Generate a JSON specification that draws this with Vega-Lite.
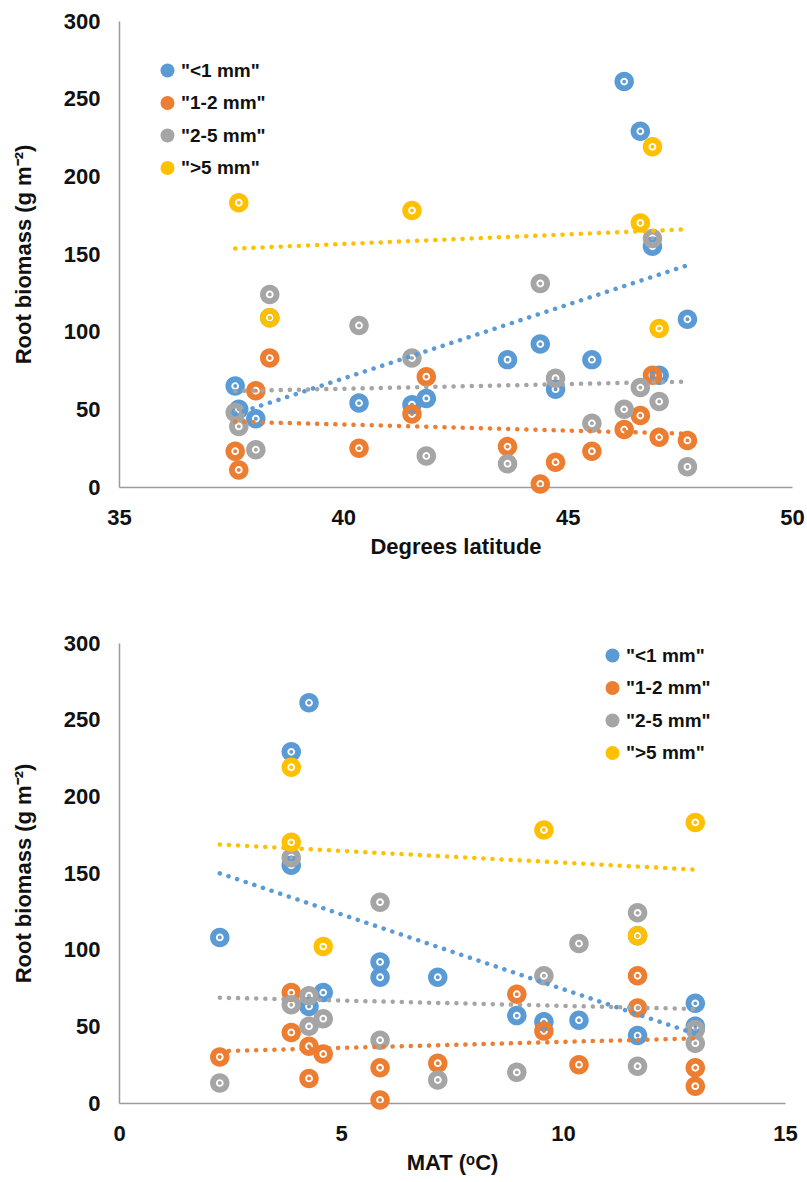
{
  "$schema": "https://vega.github.io/schema/vega-lite/v6.json",
  "background": "white",
  "padding": {"left": 12, "top": 10, "right": 5, "bottom": 5},
  "spacing": 75,
  "config": {
    "view": {"stroke": null},
    "font": "Liberation Sans",
    "axis": {
      "grid": false,
      "ticks": false,
      "labelFlush": false,
      "domainColor": "#9a9a9a",
      "domainWidth": 1.5,
      "labelFont": "Liberation Sans",
      "labelFontWeight": "bold",
      "labelFontSize": 22,
      "labelColor": "#111",
      "titleFont": "Liberation Sans",
      "titleFontWeight": "bold",
      "titleFontSize": 22,
      "titleColor": "#111"
    },
    "axisX": {"labelPadding": 20, "titlePadding": 8},
    "axisY": {"labelPadding": 19, "titlePadding": 28},
    "legend": {
      "orient": "none",
      "title": null,
      "padding": 0,
      "symbolType": "circle",
      "symbolSize": 196,
      "symbolStrokeWidth": 0,
      "symbolOpacity": 1,
      "labelFont": "Liberation Sans",
      "labelFontWeight": "bold",
      "labelFontSize": 19,
      "labelColor": "#111",
      "labelOffset": 4,
      "rowPadding": 12.5
    }
  },
  "datasets": {
    "roots": [
      {"site": "A", "lat": 37.59, "mat": 12.98, "class": "\"<1 mm\"", "biomass": 65},
      {"site": "B", "lat": 37.67, "mat": 12.98, "class": "\"<1 mm\"", "biomass": 50},
      {"site": "C", "lat": 38.05, "mat": 11.68, "class": "\"<1 mm\"", "biomass": 44},
      {"site": "D", "lat": 38.36, "mat": 11.68, "class": "\"<1 mm\"", "biomass": 109},
      {"site": "E", "lat": 40.35, "mat": 10.36, "class": "\"<1 mm\"", "biomass": 54},
      {"site": "F", "lat": 41.53, "mat": 9.57, "class": "\"<1 mm\"", "biomass": 53},
      {"site": "G", "lat": 41.85, "mat": 8.96, "class": "\"<1 mm\"", "biomass": 57},
      {"site": "H", "lat": 43.66, "mat": 7.18, "class": "\"<1 mm\"", "biomass": 82},
      {"site": "I", "lat": 44.39, "mat": 5.88, "class": "\"<1 mm\"", "biomass": 92},
      {"site": "J", "lat": 45.54, "mat": 5.88, "class": "\"<1 mm\"", "biomass": 82},
      {"site": "K", "lat": 44.73, "mat": 4.28, "class": "\"<1 mm\"", "biomass": 63},
      {"site": "L", "lat": 46.26, "mat": 4.28, "class": "\"<1 mm\"", "biomass": 261},
      {"site": "M", "lat": 46.62, "mat": 3.88, "class": "\"<1 mm\"", "biomass": 229},
      {"site": "N", "lat": 46.89, "mat": 3.88, "class": "\"<1 mm\"", "biomass": 155},
      {"site": "O", "lat": 47.04, "mat": 4.6, "class": "\"<1 mm\"", "biomass": 72},
      {"site": "P", "lat": 47.67, "mat": 2.27, "class": "\"<1 mm\"", "biomass": 108},
      {"site": "A", "lat": 37.59, "mat": 12.98, "class": "\"1-2 mm\"", "biomass": 23},
      {"site": "B", "lat": 37.67, "mat": 12.98, "class": "\"1-2 mm\"", "biomass": 11},
      {"site": "C", "lat": 38.05, "mat": 11.68, "class": "\"1-2 mm\"", "biomass": 62},
      {"site": "D", "lat": 38.36, "mat": 11.68, "class": "\"1-2 mm\"", "biomass": 83},
      {"site": "E", "lat": 40.35, "mat": 10.36, "class": "\"1-2 mm\"", "biomass": 25},
      {"site": "F", "lat": 41.53, "mat": 9.57, "class": "\"1-2 mm\"", "biomass": 47},
      {"site": "G", "lat": 41.85, "mat": 8.96, "class": "\"1-2 mm\"", "biomass": 71},
      {"site": "H", "lat": 43.66, "mat": 7.18, "class": "\"1-2 mm\"", "biomass": 26},
      {"site": "I", "lat": 44.39, "mat": 5.88, "class": "\"1-2 mm\"", "biomass": 2},
      {"site": "J", "lat": 45.54, "mat": 5.88, "class": "\"1-2 mm\"", "biomass": 23},
      {"site": "K", "lat": 44.73, "mat": 4.28, "class": "\"1-2 mm\"", "biomass": 16},
      {"site": "L", "lat": 46.26, "mat": 4.28, "class": "\"1-2 mm\"", "biomass": 37},
      {"site": "M", "lat": 46.62, "mat": 3.88, "class": "\"1-2 mm\"", "biomass": 46},
      {"site": "N", "lat": 46.89, "mat": 3.88, "class": "\"1-2 mm\"", "biomass": 72},
      {"site": "O", "lat": 47.04, "mat": 4.6, "class": "\"1-2 mm\"", "biomass": 32},
      {"site": "P", "lat": 47.67, "mat": 2.27, "class": "\"1-2 mm\"", "biomass": 30},
      {"site": "A", "lat": 37.59, "mat": 12.98, "class": "\"2-5 mm\"", "biomass": 48},
      {"site": "B", "lat": 37.67, "mat": 12.98, "class": "\"2-5 mm\"", "biomass": 39},
      {"site": "C", "lat": 38.05, "mat": 11.68, "class": "\"2-5 mm\"", "biomass": 24},
      {"site": "D", "lat": 38.36, "mat": 11.68, "class": "\"2-5 mm\"", "biomass": 124},
      {"site": "E", "lat": 40.35, "mat": 10.36, "class": "\"2-5 mm\"", "biomass": 104},
      {"site": "F", "lat": 41.53, "mat": 9.57, "class": "\"2-5 mm\"", "biomass": 83},
      {"site": "G", "lat": 41.85, "mat": 8.96, "class": "\"2-5 mm\"", "biomass": 20},
      {"site": "H", "lat": 43.66, "mat": 7.18, "class": "\"2-5 mm\"", "biomass": 15},
      {"site": "I", "lat": 44.39, "mat": 5.88, "class": "\"2-5 mm\"", "biomass": 131},
      {"site": "J", "lat": 45.54, "mat": 5.88, "class": "\"2-5 mm\"", "biomass": 41},
      {"site": "K", "lat": 44.73, "mat": 4.28, "class": "\"2-5 mm\"", "biomass": 70},
      {"site": "L", "lat": 46.26, "mat": 4.28, "class": "\"2-5 mm\"", "biomass": 50},
      {"site": "M", "lat": 46.62, "mat": 3.88, "class": "\"2-5 mm\"", "biomass": 64},
      {"site": "N", "lat": 46.89, "mat": 3.88, "class": "\"2-5 mm\"", "biomass": 160},
      {"site": "O", "lat": 47.04, "mat": 4.6, "class": "\"2-5 mm\"", "biomass": 55},
      {"site": "P", "lat": 47.67, "mat": 2.27, "class": "\"2-5 mm\"", "biomass": 13},
      {"site": "B", "lat": 37.67, "mat": 12.98, "class": "\">5 mm\"", "biomass": 183},
      {"site": "D", "lat": 38.36, "mat": 11.68, "class": "\">5 mm\"", "biomass": 109},
      {"site": "F", "lat": 41.53, "mat": 9.57, "class": "\">5 mm\"", "biomass": 178},
      {"site": "M", "lat": 46.62, "mat": 3.88, "class": "\">5 mm\"", "biomass": 170},
      {"site": "N", "lat": 46.89, "mat": 3.88, "class": "\">5 mm\"", "biomass": 219},
      {"site": "O", "lat": 47.04, "mat": 4.6, "class": "\">5 mm\"", "biomass": 102}
    ]
  },
  "resolve": {"legend": {"color": "independent"}},
  "vconcat": [
    {
      "width": 673,
      "height": 466,
      "data": {"name": "roots"},
      "layer": [
        {
          "mark": {"type": "point", "shape": "M1,0A1,1,0,1,1,-1,0A1,1,0,1,1,1,0ZM0.4,0A0.4,0.4,0,1,0,-0.4,0A0.4,0.4,0,1,0,0.4,0ZM0.2,0A0.2,0.2,0,1,1,-0.2,0A0.2,0.2,0,1,1,0.2,0Z", "filled": true, "opacity": 1, "size": 380, "strokeWidth": 0},
          "encoding": {
            "x": {"field": "lat", "type": "quantitative", "title": "Degrees latitude", "scale": {"domain": [35, 50], "nice": false, "zero": false}, "axis": {"values": [35, 40, 45, 50]}},
            "y": {"field": "biomass", "type": "quantitative", "title": "Root biomass (g m⁻²)", "scale": {"domain": [0, 300], "nice": false}, "axis": {"values": [0, 50, 100, 150, 200, 250, 300]}},
            "color": {"field": "class", "type": "nominal", "scale": {"domain": ["\"<1 mm\"", "\"1-2 mm\"", "\"2-5 mm\"", "\">5 mm\""], "range": ["#5B9BD5", "#ED7D31", "#A5A5A5", "#FFC000"]}, "legend": {"legendX": 39, "legendY": 40}}
          }
        },
        {
          "transform": [{"regression": "biomass", "on": "lat", "groupby": ["class"], "extent": [37.59, 47.67]}],
          "mark": {"type": "line", "strokeDash": [0.1, 9], "strokeCap": "round", "strokeWidth": 4.5},
          "encoding": {
            "x": {"field": "lat", "type": "quantitative"},
            "y": {"field": "biomass", "type": "quantitative"},
            "color": {"field": "class", "type": "nominal", "legend": null}
          }
        }
      ]
    },
    {
      "width": 666,
      "height": 460,
      "data": {"name": "roots"},
      "layer": [
        {
          "mark": {"type": "point", "shape": "M1,0A1,1,0,1,1,-1,0A1,1,0,1,1,1,0ZM0.4,0A0.4,0.4,0,1,0,-0.4,0A0.4,0.4,0,1,0,0.4,0ZM0.2,0A0.2,0.2,0,1,1,-0.2,0A0.2,0.2,0,1,1,0.2,0Z", "filled": true, "opacity": 1, "size": 380, "strokeWidth": 0},
          "encoding": {
            "x": {"field": "mat", "type": "quantitative", "title": "MAT (ᵒC)", "scale": {"domain": [0, 15], "nice": false}, "axis": {"values": [0, 5, 10, 15]}},
            "y": {"field": "biomass", "type": "quantitative", "title": "Root biomass (g m⁻²)", "scale": {"domain": [0, 300], "nice": false}, "axis": {"values": [0, 50, 100, 150, 200, 250, 300]}},
            "color": {"field": "class", "type": "nominal", "legend": {"legendX": 484, "legendY": 3}}
          }
        },
        {
          "transform": [{"regression": "biomass", "on": "mat", "groupby": ["class"], "extent": [2.27, 12.98]}],
          "mark": {"type": "line", "strokeDash": [0.1, 9], "strokeCap": "round", "strokeWidth": 4.5},
          "encoding": {
            "x": {"field": "mat", "type": "quantitative"},
            "y": {"field": "biomass", "type": "quantitative"},
            "color": {"field": "class", "type": "nominal", "legend": null}
          }
        }
      ]
    }
  ]
}
